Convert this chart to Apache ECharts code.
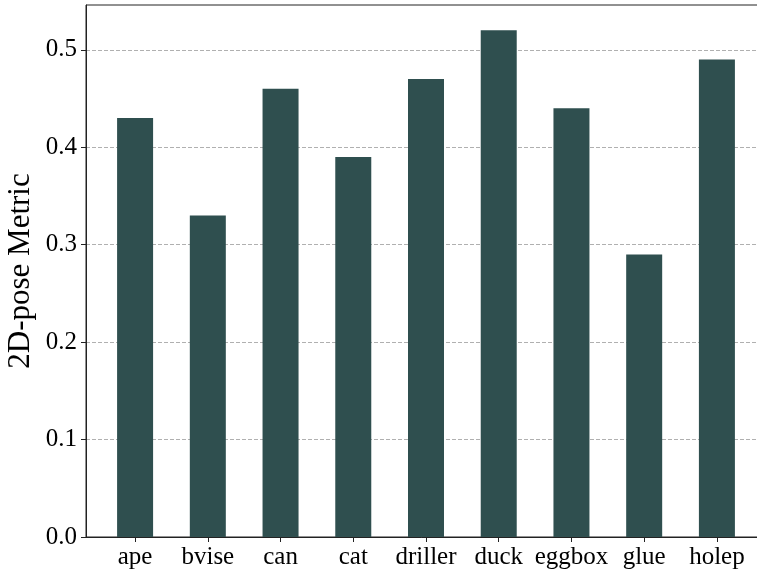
<!DOCTYPE html>
<html>
<head>
<meta charset="utf-8">
<script src="https://cdn.jsdelivr.net/npm/echarts@6/dist/echarts.min.js"></script>
<style>
  html, body { margin: 0; padding: 0; background: #fff; }
  #chart { width: 757px; height: 573px; }
</style>
</head>
<body>
<div id="chart"></div>
<script>
const categories = ['ape', 'bvise', 'can', 'cat', 'driller', 'duck', 'eggbox', 'glue', 'holep']
const values = [0.43, 0.33, 0.46, 0.39, 0.47, 0.52, 0.44, 0.29, 0.49]
const yTicks = [0, 0.1, 0.2, 0.3, 0.4, 0.5]

const font = 'Liberation Serif, Times New Roman, serif'
const barColor = '#2f4f4f'

const chart = echarts.init(document.getElementById('chart'))

chart.setOption({
  animation: false,
  grid: {
    left: 86,
    right: -9,
    top: 5,
    bottom: 36,
    outerBoundsMode: 'none',
    containLabel: false,
    show: true,
    borderColor: '#222',
    borderWidth: 1
  },
  xAxis: {
    type: 'value',
    min: -0.675,
    max: 8.675,
    splitLine: { show: false },
    axisLine: { show: true, onZero: false, lineStyle: { color: '#222' } },
    axisTick: {
      show: true,
      customValues: categories.map((c, i) => i),
      length: 5,
      lineStyle: { color: '#222' }
    },
    axisLabel: {
      customValues: categories.map((c, i) => i),
      formatter: (v) => categories[Math.round(v)] || '',
      fontFamily: font,
      fontSize: 25,
      color: '#000',
      margin: 8
    }
  },
  yAxis: {
    type: 'value',
    min: 0,
    max: 0.546,
    name: '2D-pose Metric',
    nameLocation: 'middle',
    nameGap: 50,
    nameMoveOverlap: false,
    nameTextStyle: { fontFamily: font, fontSize: 31, color: '#000' },
    axisLine: { show: true, onZero: false, lineStyle: { color: '#222' } },
    axisTick: {
      show: true,
      customValues: yTicks,
      length: 5,
      lineStyle: { color: '#222' }
    },
    axisLabel: {
      customValues: yTicks,
      formatter: (v) => v.toFixed(1),
      fontFamily: font,
      fontSize: 25,
      color: '#000',
      margin: 9
    },
    splitLine: {
      show: true,
      lineStyle: { color: '#b0b0b0', type: [4, 2], width: 1 }
    },
    interval: 0.1
  },
  series: [
    {
      type: 'bar',
      barWidth: 36,
      itemStyle: { color: barColor },
      data: values.map((v, i) => [i, v])
    }
  ]
})
</script>
</body>
</html>
